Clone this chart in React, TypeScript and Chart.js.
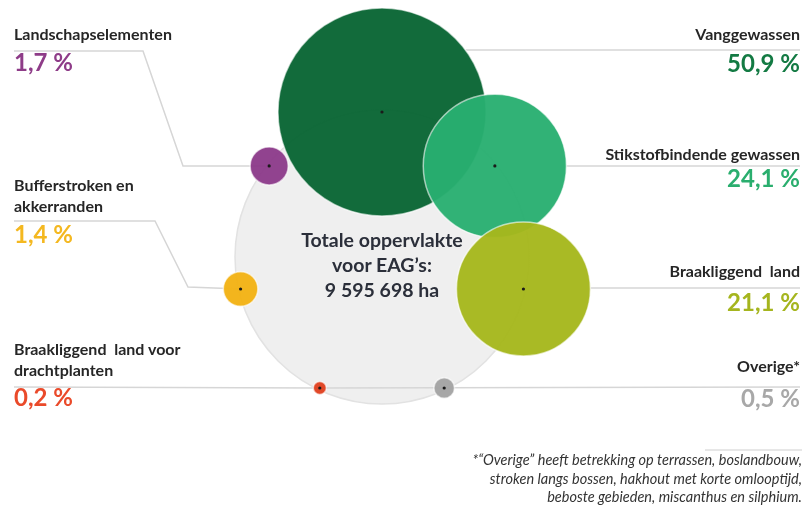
import React, { useEffect, useRef } from "react";
import { Chart, registerables } from "chart.js";

Chart.register(...registerables);

// ---------- data ----------
const categories = [
  "Vanggewassen",
  "Stikstofbindende gewassen",
  "Braakliggend land",
  "Overige*",
  "Braakliggend land voor drachtplanten",
  "Bufferstroken en akkerranden",
  "Landschapselementen",
];
const shares = [50.9, 24.1, 21.1, 0.5, 0.2, 1.4, 1.7];
const totalLines = ["Totale oppervlakte", "voor EAG\u2019s:", "9 595 698 ha"];
const footnoteLines = [
  "*\u201cOverige\u201d heeft betrekking op terrassen, boslandbouw,",
  "stroken langs bossen, hakhout met korte omlooptijd,",
  "beboste gebieden, miscanthus en silphium.",
];

// ---------- styles / layout ----------
const bubbleColors = ["#086533", "#29af70", "#a5b71c", "#a3a3a3", "#e0411f", "#f3b214", "#8c3b8a"];
const textColors = ["#137a43", "#2aae6e", "#a5b51e", "#a8a8a8", "#ea4a2a", "#f4b820", "#8e3c88"];
const ring = { cx: 382, cy: 257, r: 145, bgR: 147 };
const ringAngles = [-90, -38.9, 12.75, 64.6, 115.4, 167.25, 218.9];
const radiusPerSqrtPct = 14.58;

type Leader = { pts: [number, number][]; target: number; clip: boolean };
const leaders: Leader[] = [
  { pts: [[800, 50]], target: 0, clip: true },
  { pts: [[800, 166]], target: 1, clip: true },
  { pts: [[800, 288]], target: 2, clip: true },
  { pts: [[800, 387]], target: 4, clip: false },
  { pts: [[14, 387]], target: 4, clip: false },
  { pts: [[14, 221], [155, 221], [188, 287]], target: 5, clip: false },
  { pts: [[14, 51], [143, 51], [183, 166]], target: 6, clip: false },
];

type LabelPos = { side: "left" | "right"; titleTop: number; valueTop: number; lines: string[] };
const labelPos: LabelPos[] = [
  { side: "right", titleTop: 24, valueTop: 50, lines: ["Vanggewassen"] },
  { side: "right", titleTop: 144, valueTop: 165, lines: ["Stikstofbindende gewassen"] },
  { side: "right", titleTop: 261, valueTop: 289, lines: ["Braakliggend\u00a0\u00a0land"] },
  { side: "right", titleTop: 356, valueTop: 385, lines: ["Overige*"] },
  { side: "left", titleTop: 339, valueTop: 384, lines: ["Braakliggend\u00a0\u00a0land voor", "drachtplanten"] },
  { side: "left", titleTop: 175, valueTop: 221, lines: ["Bufferstroken en", "akkerranden"] },
  { side: "left", titleTop: 24, valueTop: 49, lines: ["Landschapselementen"] },
];

const FONT = "Lato, 'Open Sans', 'Liberation Sans', sans-serif";

const fmtPct = (v: number) => v.toFixed(1).replace(".", ",") + "\u00a0%";

function bubblePoint(i: number) {
  const a = (ringAngles[i] * Math.PI) / 180;
  return {
    x: ring.cx + ring.r * Math.cos(a),
    y: ring.cy + ring.r * Math.sin(a),
    r: radiusPerSqrtPct * Math.sqrt(shares[i]),
  };
}

export default function App() {
  const canvasRef = useRef<HTMLCanvasElement | null>(null);

  useEffect(() => {
    if (!canvasRef.current) return;
    const points = shares.map((_, i) => bubblePoint(i));

    const linesPlugin = {
      id: "leaders",
      afterDatasetDraw(chart: any, args: any) {
        if (args.index !== 1) return;
        const ctx = chart.ctx as CanvasRenderingContext2D;
        const xs = chart.scales.x;
        const ys = chart.scales.y;
        ctx.save();
        ctx.strokeStyle = "#d6d6d6";
        ctx.lineWidth = 1.5;
        leaders.forEach((ld) => {
          const p = points[ld.target];
          const cx = xs.getPixelForValue(p.x);
          const cy = ys.getPixelForValue(p.y);
          const rr = p.r;
          const last = ld.pts[ld.pts.length - 1];
          let ex = cx;
          let ey = cy;
          if (ld.clip) {
            ey = ys.getPixelForValue(last[1]);
            const dy = ey - cy;
            const dx = Math.sqrt(Math.max(0, rr * rr - dy * dy));
            ex = xs.getPixelForValue(last[0]) > cx ? cx + dx : cx - dx;
          }
          ctx.beginPath();
          ctx.moveTo(xs.getPixelForValue(ld.pts[0][0]), ys.getPixelForValue(ld.pts[0][1]));
          for (let k = 1; k < ld.pts.length; k++)
            ctx.lineTo(xs.getPixelForValue(ld.pts[k][0]), ys.getPixelForValue(ld.pts[k][1]));
          ctx.lineTo(ex, ey);
          ctx.stroke();
        });
        ctx.restore();
      },
      afterDatasetsDraw(chart: any) {
        const ctx = chart.ctx as CanvasRenderingContext2D;
        const xs = chart.scales.x;
        const ys = chart.scales.y;
        ctx.save();
        ctx.fillStyle = "#1a1a1a";
        points.forEach((p) => {
          ctx.beginPath();
          ctx.arc(xs.getPixelForValue(p.x), ys.getPixelForValue(p.y), 1.6, 0, Math.PI * 2);
          ctx.fill();
        });
        // footnote rule
        ctx.strokeStyle = "#cfcfcf";
        ctx.lineWidth = 1.2;
        ctx.beginPath();
        ctx.moveTo(xs.getPixelForValue(705), ys.getPixelForValue(450));
        ctx.lineTo(xs.getPixelForValue(802), ys.getPixelForValue(450));
        ctx.stroke();
        ctx.restore();
      },
    };

    const chart = new Chart(canvasRef.current, {
      type: "bubble",
      data: {
        datasets: [
          {
            label: "Aandeel",
            data: points,
            backgroundColor: bubbleColors.map((c) => c + "f5"),
            borderColor: "rgba(255,255,255,0.6)",
            borderWidth: 1.5,
            order: 0,
            clip: false as any,
          },
          {
            label: "Totaal",
            data: [{ x: ring.cx, y: ring.cy, r: ring.bgR }],
            backgroundColor: "#efefef",
            borderColor: "#e2e2e2",
            borderWidth: 1.5,
            order: 1,
            clip: false as any,
          },
        ],
      },
      options: {
        responsive: false,
        animation: false,
        events: [],
        layout: { padding: 0, autoPadding: false } as any,
        scales: {
          x: { type: "linear", display: false, min: 0, max: 805 },
          y: { type: "linear", display: false, min: 0, max: 510, reverse: true },
        },
        plugins: { legend: { display: false }, tooltip: { enabled: false } },
      },
      plugins: [linesPlugin],
    });
    return () => chart.destroy();
  }, []);

  return (
    <div
      style={{
        position: "fixed",
        left: 0,
        top: 0,
        width: 805,
        height: 510,
        background: "#ffffff",
        fontFamily: FONT,
        overflow: "hidden",
      }}
    >
      <canvas ref={canvasRef} width={805} height={510} style={{ position: "absolute", left: 0, top: 0 }} />
      {categories.map((cat, i) => {
        const lp = labelPos[i];
        const horiz = lp.side === "left" ? { left: 14 } : { right: 5 };
        return (
          <React.Fragment key={cat}>
            <div
              title={cat}
              style={{
                position: "absolute",
                top: lp.titleTop,
                ...horiz,
                textAlign: lp.side,
                fontWeight: 700,
                fontSize: 16,
                lineHeight: "20.5px",
                color: "#262626",
                whiteSpace: "nowrap",
              }}
            >
              {lp.lines.map((l, k) => (
                <div key={k}>{l}</div>
              ))}
            </div>
            <div
              style={{
                position: "absolute",
                top: lp.valueTop,
                ...horiz,
                textAlign: lp.side,
                fontWeight: 700,
                fontSize: 24,
                lineHeight: "26px",
                color: textColors[i],
                whiteSpace: "nowrap",
              }}
            >
              {fmtPct(shares[i])}
            </div>
          </React.Fragment>
        );
      })}
      <div
        style={{
          position: "absolute",
          left: ring.cx - 120,
          width: 240,
          top: 227,
          textAlign: "center",
          fontWeight: 700,
          fontSize: 19.5,
          lineHeight: "25px",
          color: "#2b2f3a",
        }}
      >
        {totalLines.map((l, k) => (
          <div key={k}>{l}</div>
        ))}
      </div>
      <div
        style={{
          position: "absolute",
          right: 3,
          top: 451,
          textAlign: "right",
          fontStyle: "italic",
          fontSize: 14.5,
          lineHeight: "18.5px",
          color: "#333333",
          whiteSpace: "nowrap",
        }}
      >
        {footnoteLines.map((l, k) => (
          <div key={k}>{l}</div>
        ))}
      </div>
    </div>
  );
}
